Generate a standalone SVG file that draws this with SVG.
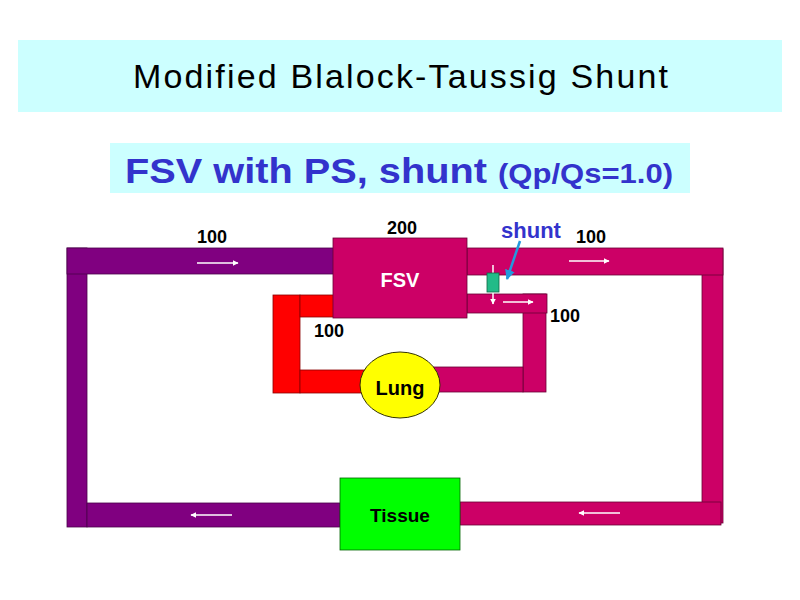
<svg xmlns="http://www.w3.org/2000/svg" width="800" height="600" viewBox="0 0 800 600">
<defs>
<style>
.banner{fill:#ccffff}
.pur{fill:#800080;stroke:#4a004a;stroke-width:0.8}
.pink{fill:#cc0066;stroke:#6a0035;stroke-width:0.8}
.red{fill:#ff0000;stroke:#8a0000;stroke-width:0.8}
.lbl{font-family:"Liberation Sans",Arial,sans-serif;font-weight:bold;font-size:18px;fill:#000;text-anchor:middle}
.wa{stroke:#ffffff;stroke-width:1.5;fill:none}
</style>
<marker id="wh" viewBox="0 0 10 10" refX="9" refY="5" markerWidth="4" markerHeight="4" orient="auto"><path d="M0,0 L10,5 L0,10 z" fill="#ffffff"/></marker>
<marker id="bh" viewBox="0 0 10 10" refX="9" refY="5" markerWidth="4" markerHeight="4" orient="auto"><path d="M0,0 L10,5 L0,10 z" fill="#2299dd"/></marker>
</defs>
<rect width="800" height="600" fill="#ffffff"/>
<g id="title">
<rect class="banner" x="18" y="40" width="764" height="72"/>
<text x="133" y="88" textLength="535" lengthAdjust="spacing" font-family="'Liberation Sans',Arial,sans-serif" font-size="34" fill="#000">Modified Blalock-Taussig Shunt</text>
</g>
<g id="subtitle">
<rect class="banner" x="110" y="143" width="580" height="50"/>
<text x="125" y="183" textLength="362" lengthAdjust="spacingAndGlyphs" font-family="'Liberation Sans',Arial,sans-serif" font-weight="bold" font-size="35" fill="#3333cc">FSV with PS, shunt</text>
<text x="498" y="183" textLength="175" lengthAdjust="spacingAndGlyphs" font-family="'Liberation Sans',Arial,sans-serif" font-weight="bold" font-size="27" fill="#3333cc">(Qp/Qs=1.0)</text>
</g>
<g id="connectors">
<rect class="pur" x="67" y="248" width="20" height="279"/>
<rect class="pur" x="67" y="248" width="268" height="26"/>
<rect class="pur" x="87" y="503" width="253" height="24"/>
<rect class="pink" x="702" y="249" width="21" height="274"/>
<rect class="pink" x="467" y="248" width="256" height="27"/>
<rect class="pink" x="460" y="502" width="261" height="23"/>
<rect class="pink" x="523" y="294" width="23" height="98"/>
<rect class="pink" x="467" y="294" width="80" height="19"/>
<rect class="pink" x="430" y="367" width="93" height="25"/>
<rect class="red" x="273" y="295" width="27" height="98"/>
<rect class="red" x="300" y="295" width="35" height="22"/>
<rect class="red" x="300" y="370" width="70" height="23"/>
<line class="wa" x1="197" y1="263" x2="238" y2="263" marker-end="url(#wh)"/>
<line class="wa" x1="569" y1="261" x2="609" y2="261" marker-end="url(#wh)"/>
<line class="wa" x1="503" y1="302" x2="533" y2="302" marker-end="url(#wh)"/>
<line class="wa" x1="493" y1="265" x2="493" y2="304" marker-end="url(#wh)"/>
<line class="wa" x1="232" y1="515" x2="191" y2="515" marker-end="url(#wh)"/>
<line class="wa" x1="620" y1="513" x2="579" y2="513" marker-end="url(#wh)"/>
<line x1="520" y1="241" x2="507" y2="279" stroke="#2299dd" stroke-width="2.5" marker-end="url(#bh)"/>
</g>
<g id="fsv">
<rect class="pink" x="333" y="238" width="134" height="80"/>
<text x="400" y="287" font-family="'Liberation Sans',Arial,sans-serif" font-weight="bold" font-size="20" fill="#ffffff" text-anchor="middle">FSV</text>
</g>
<g id="shunt">
<rect x="487" y="273" width="12" height="19" fill="#22bb88" stroke="#116644" stroke-width="0.8"/>
<text x="531" y="238" font-family="'Liberation Sans',Arial,sans-serif" font-weight="bold" font-size="22" fill="#3333cc" text-anchor="middle">shunt</text>
</g>
<g id="lung">
<ellipse cx="400" cy="385" rx="40" ry="33" fill="#ffff00" stroke="#333300" stroke-width="1"/>
<text x="400" y="395" class="lbl" font-size="20" style="font-size:20px">Lung</text>
</g>
<g id="tissue">
<rect x="340" y="478" width="120" height="72" fill="#00ff00" stroke="#006600" stroke-width="0.8"/>
<text x="400" y="522" class="lbl" style="font-size:19px">Tissue</text>
</g>
<g id="labels">
<text class="lbl" x="212" y="243">100</text>
<text class="lbl" x="402" y="234">200</text>
<text class="lbl" x="591" y="243">100</text>
<text class="lbl" x="565" y="322">100</text>
<text class="lbl" x="329" y="337">100</text>
</g>
</svg>
